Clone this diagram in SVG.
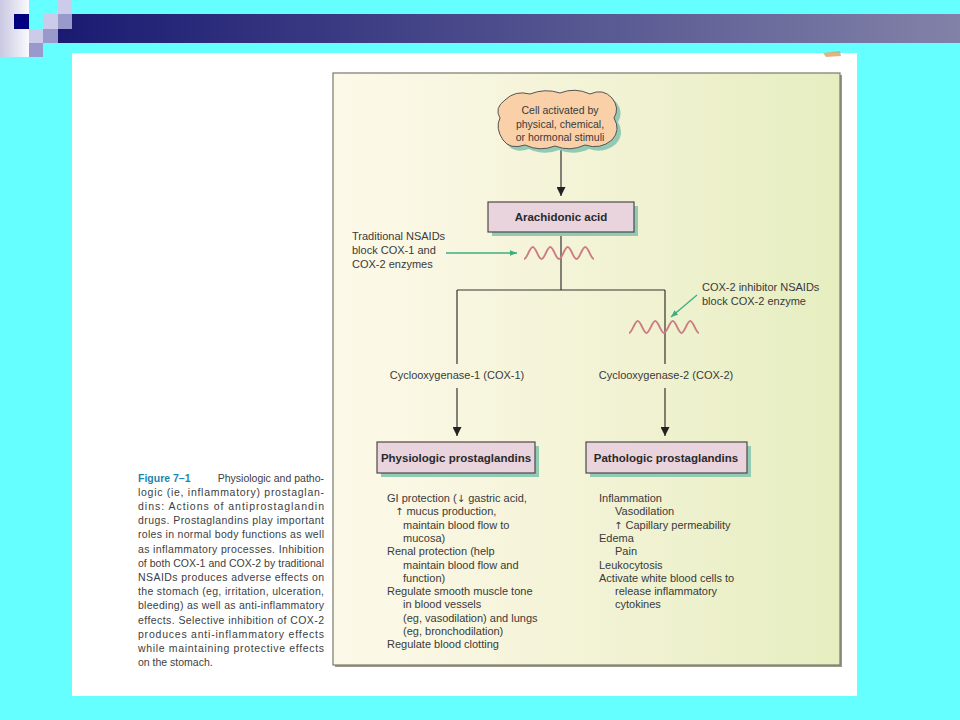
<svg xmlns="http://www.w3.org/2000/svg" width="960" height="720" viewBox="0 0 960 720">
<defs>
<linearGradient id="bar" x1="0" y1="0" x2="1" y2="0">
<stop offset="0" stop-color="#1a1a72"/>
<stop offset="1" stop-color="#8282a8"/>
</linearGradient>
<linearGradient id="corner" x1="0" y1="0" x2="1" y2="0">
<stop offset="0" stop-color="#c8c8e2"/>
<stop offset="1" stop-color="#fafafe"/>
</linearGradient>
<linearGradient id="panel" x1="0" y1="0" x2="1" y2="0">
<stop offset="0" stop-color="#fdf9e9"/>
<stop offset="0.5" stop-color="#f3f3d6"/>
<stop offset="1" stop-color="#e6eec0"/>
</linearGradient>
<marker id="ah" viewBox="0 0 10 10" refX="10" refY="5" markerWidth="9" markerHeight="9" markerUnits="userSpaceOnUse" orient="auto">
<path d="M0,0 L10,5 L0,10 z" fill="#222"/>
</marker>
<marker id="gh" viewBox="0 0 10 10" refX="10" refY="5" markerWidth="7" markerHeight="7" markerUnits="userSpaceOnUse" orient="auto">
<path d="M0,1 L10,5 L0,9 z" fill="#3cae80"/>
</marker>
</defs>
<style>
.t{font-family:"Liberation Sans",Arial,sans-serif;font-size:11px;fill:#3a3a3a}
.ar{font-family:"DejaVu Sans",sans-serif;font-size:10px}
.c{font-family:"Liberation Sans",Arial,sans-serif;font-size:10.5px;fill:#3a3a3a;text-anchor:middle}
.b{font-family:"Liberation Sans",Arial,sans-serif;font-size:11.5px;font-weight:bold;fill:#2a2a2a;text-anchor:middle}
.cap{font-family:"Liberation Sans",Arial,sans-serif;font-size:10.5px;fill:#404040}
.box{fill:#e9d3dd;stroke:#4a4a4a;stroke-width:1.2}
.sh{fill:#92cab4}
.ln{stroke:#333;stroke-width:1.2;fill:none}
.wave{stroke:#cc7c82;stroke-width:1.9;fill:none}
.grn{stroke:#3cae80;stroke-width:1.3;fill:none}
</style>
<rect width="960" height="720" fill="#66ffff"/>
<g id="decor">
<rect x="0" y="0" width="29" height="57" fill="url(#corner)"/>
<rect x="58" y="14" width="902" height="29" fill="url(#bar)"/>
<rect x="14" y="14" width="15" height="15" fill="#000080"/>
<rect x="43" y="14" width="15" height="15" fill="#ccccea"/>
<rect x="58" y="0" width="14" height="14" fill="#ccccea"/>
<rect x="58" y="14" width="14" height="15" fill="#9999cc"/>
<rect x="29" y="29" width="14" height="14" fill="#ccccea"/>
<rect x="43" y="29" width="15" height="14" fill="#9999cc"/>
<rect x="29" y="43" width="14" height="14" fill="#9999cc"/>
</g>
<rect x="72" y="53" width="785" height="643" fill="#ffffff"/>
<path d="M823,53 L840,51 L841,56 L826,57 z" fill="#e0a060" opacity="0.8"/>
<g id="panel-box">
<rect x="335" y="75" width="507" height="592" fill="#9a9a8a"/>
<rect x="333" y="73" width="507" height="592" fill="url(#panel)" stroke="#7a7a6a" stroke-width="1.2"/>
</g>
<g id="caption">
<text x="138" y="481.5" class="cap" style="font-weight:bold;fill:#1f86b0">Figure 7–1</text>
<text x="324" y="481.5" class="cap" text-anchor="end">Physiologic and patho-</text>
<text x="138" y="495.7" class="cap" textLength="186" lengthAdjust="spacing">logic (ie, inflammatory) prostaglan-</text>
<text x="138" y="509.9" class="cap" textLength="186" lengthAdjust="spacing">dins: Actions of antiprostaglandin</text>
<text x="138" y="524.1" class="cap" textLength="186" lengthAdjust="spacing">drugs. Prostaglandins play important</text>
<text x="138" y="538.3" class="cap" textLength="186" lengthAdjust="spacing">roles in normal body functions as well</text>
<text x="138" y="552.5" class="cap" textLength="186" lengthAdjust="spacing">as inflammatory processes. Inhibition</text>
<text x="138" y="566.7" class="cap" textLength="186" lengthAdjust="spacing">of both COX-1 and COX-2 by traditional</text>
<text x="138" y="580.9" class="cap" textLength="186" lengthAdjust="spacing">NSAIDs produces adverse effects on</text>
<text x="138" y="595.1" class="cap" textLength="186" lengthAdjust="spacing">the stomach (eg, irritation, ulceration,</text>
<text x="138" y="609.3" class="cap" textLength="186" lengthAdjust="spacing">bleeding) as well as anti-inflammatory</text>
<text x="138" y="623.5" class="cap" textLength="186" lengthAdjust="spacing">effects. Selective inhibition of COX-2</text>
<text x="138" y="637.7" class="cap" textLength="186" lengthAdjust="spacing">produces anti-inflammatory effects</text>
<text x="138" y="651.9" class="cap" textLength="186" lengthAdjust="spacing">while maintaining protective effects</text>
<text x="138" y="666.1" class="cap">on the stomach.</text>
</g>
<g id="connectors">
<line class="ln" x1="561" y1="149" x2="561" y2="196" marker-end="url(#ah)"/>
<line class="ln" x1="561" y1="232" x2="561" y2="290"/>
<line class="ln" x1="457" y1="290" x2="665" y2="290"/>
<line class="ln" x1="457" y1="290" x2="457" y2="364"/>
<line class="ln" x1="665" y1="290" x2="665" y2="364"/>
<line class="ln" x1="457" y1="388" x2="457" y2="436" marker-end="url(#ah)"/>
<line class="ln" x1="665" y1="388" x2="665" y2="436" marker-end="url(#ah)"/>
<line class="grn" x1="446" y1="253" x2="517" y2="253" marker-end="url(#gh)"/>
<line class="grn" x1="697" y1="295" x2="671" y2="317" marker-end="url(#gh)"/>
</g>
<g id="block1">
<path class="wave" d="M524,259 C527.2,259 529.6,247 532.75,247 C535.9,247 538.3,259 541.5,259 C544.7,259 547.1,247 550.25,247 C553.4,247 555.8,259 559,259 C562.2,259 564.6,247 567.75,247 C570.9,247 573.3,259 576.5,259 C579.7,259 582.1,247 585.25,247 C588.4,247 590.8,259 594,259"/>
<text x="352" y="240" class="t">Traditional NSAIDs</text>
<text x="352" y="254" class="t">block COX-1 and</text>
<text x="352" y="268" class="t">COX-2 enzymes</text>
</g>
<g id="block2">
<path class="wave" d="M629,333 C632.2,333 634.6,321 637.75,321 C640.9,321 643.3,333 646.5,333 C649.7,333 652.1,321 655.25,321 C658.4,321 660.8,333 664,333 C667.2,333 669.6,321 672.75,321 C675.9,321 678.3,333 681.5,333 C684.7,333 687.1,321 690.25,321 C693.4,321 695.8,333 699,333"/>
<text x="702" y="291" class="t">COX-2 inhibitor NSAIDs</text>
<text x="702" y="305" class="t">block COX-2 enzyme</text>
</g>
<g id="cell">
<path class="sh" d="M505,100 Q515,90 530,94 Q545,88 560,93 Q575,87 590,94 Q603,88 612,98 Q620,108 614,118 Q621,130 612,140 Q600,150 585,145 Q570,152 555,146 Q540,152 525,145 Q510,150 503,140 Q495,128 500,118 Q494,108 505,100 Z" transform="translate(4,4)"/>
<path d="M505,100 Q515,90 530,94 Q545,88 560,93 Q575,87 590,94 Q603,88 612,98 Q620,108 614,118 Q621,130 612,140 Q600,150 585,145 Q570,152 555,146 Q540,152 525,145 Q510,150 503,140 Q495,128 500,118 Q494,108 505,100 Z" fill="#f9d0a8" stroke="#555" stroke-width="1"/>
<text x="560" y="114" class="c">Cell activated by</text>
<text x="560" y="127.5" class="c">physical, chemical,</text>
<text x="560" y="141" class="c">or hormonal stimuli</text>
</g>
<g id="arachidonic">
<rect class="sh" x="492" y="206" width="146" height="30"/>
<rect class="box" x="488" y="202" width="146" height="30"/>
<text x="561" y="221" class="b">Arachidonic acid</text>
</g>
<g id="cox1">
<text x="457" y="379" class="t" text-anchor="middle">Cyclooxygenase-1 (COX-1)</text>
</g>
<g id="cox2">
<text x="666" y="379" class="t" text-anchor="middle">Cyclooxygenase-2 (COX-2)</text>
</g>
<g id="physiologic">
<rect class="sh" x="381" y="446" width="158" height="31"/>
<rect class="box" x="377" y="442" width="158" height="31"/>
<text x="456" y="461.5" class="b">Physiologic prostaglandins</text>
</g>
<g id="pathologic">
<rect class="sh" x="590" y="446" width="161" height="31"/>
<rect class="box" x="586" y="442" width="161" height="31"/>
<text x="666" y="461.5" class="b">Pathologic prostaglandins</text>
</g>
<g id="physio-list" class="t">
<text x="387" y="502">GI protection (<tspan class="ar">↓</tspan> gastric acid,</text>
<text x="395" y="515.3"><tspan class="ar">↑</tspan> mucus production,</text>
<text x="403" y="528.6">maintain blood flow to</text>
<text x="403" y="541.9">mucosa)</text>
<text x="387" y="555.2">Renal protection (help</text>
<text x="403" y="568.5">maintain blood flow and</text>
<text x="403" y="581.8">function)</text>
<text x="387" y="595.1">Regulate smooth muscle tone</text>
<text x="403" y="608.4">in blood vessels</text>
<text x="403" y="621.7">(eg, vasodilation) and lungs</text>
<text x="403" y="635">(eg, bronchodilation)</text>
<text x="387" y="648.3">Regulate blood clotting</text>
</g>
<g id="patho-list" class="t">
<text x="599" y="502">Inflammation</text>
<text x="615" y="515.3">Vasodilation</text>
<text x="614" y="528.6"><tspan class="ar">↑</tspan> Capillary permeability</text>
<text x="599" y="541.9">Edema</text>
<text x="615" y="555.2">Pain</text>
<text x="599" y="568.5">Leukocytosis</text>
<text x="599" y="581.8">Activate white blood cells to</text>
<text x="615" y="595.1">release inflammatory</text>
<text x="615" y="608.4">cytokines</text>
</g>
</svg>
